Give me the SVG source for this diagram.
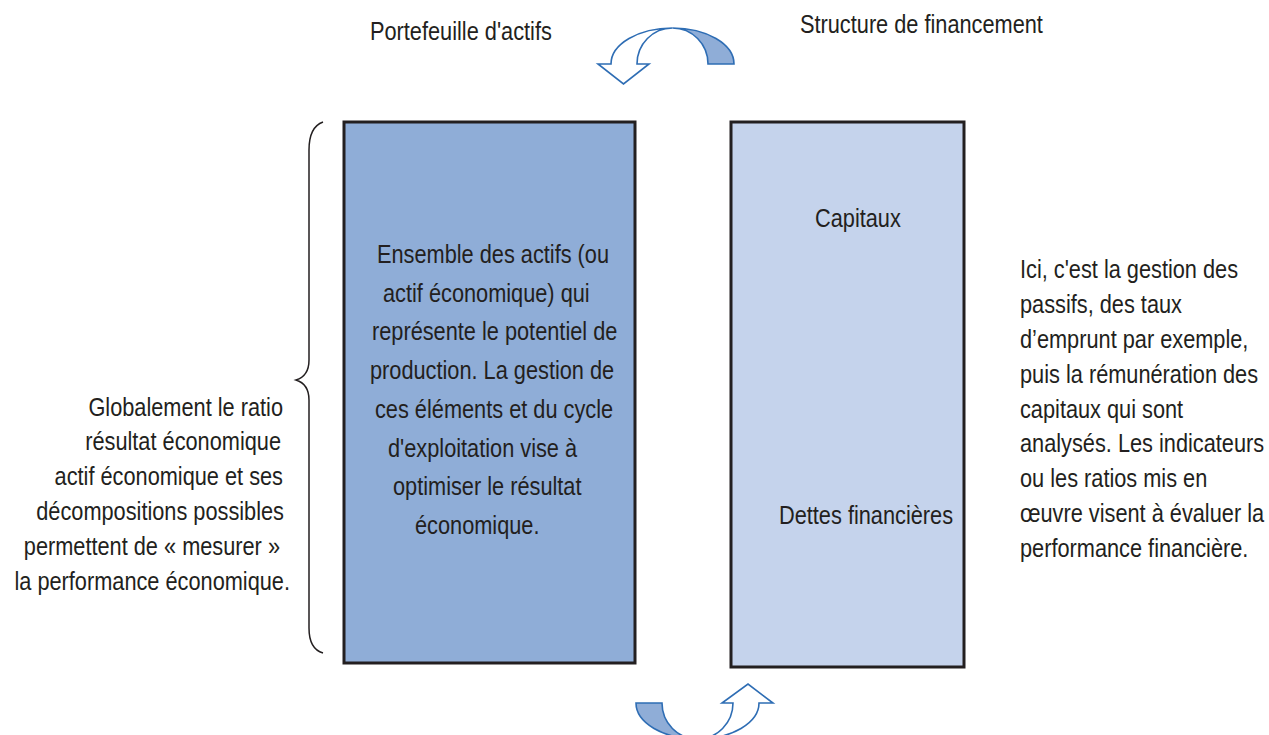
<svg xmlns="http://www.w3.org/2000/svg" width="1269" height="735" viewBox="0 0 1269 735">
<style>
.t{font-family:"Liberation Sans",Arial,sans-serif;font-size:25px;fill:#231f20;}
.e{text-anchor:end;}
.box{stroke:#231f20;stroke-width:3;}
.arr{stroke:#2e6db4;stroke-width:1.6;stroke-linejoin:miter;}
</style>
<rect width="1269" height="735" fill="#ffffff"/>
<g id="label-portefeuille"><text class="t" transform="translate(370,40) scale(0.87,1)">Portefeuille d'actifs</text></g>
<g id="label-structure"><text class="t" transform="translate(800,33) scale(0.87,1)">Structure de financement</text></g>
<g id="connectors">
<path class="arr" fill="#ffffff" d="M611,64 A61.5,36 0 0 1 672.5,28 A35.5,36 0 0 0 637,64 L649,64 L623.5,84 L598,64 Z"/>
<path class="arr" fill="#8fadd7" d="M672.5,28 A61.5,36 0 0 1 734,64 L708,64 A35.5,36 0 0 0 672.5,28 Z"/>
<path class="arr" fill="#8fadd7" d="M636,703 A61.5,36 0 0 0 697.5,739 A35.5,36 0 0 1 662,703 Z"/>
<path class="arr" fill="#ffffff" d="M697.5,739 A61.5,36 0 0 0 759,703 L773,703 L748,684 L722,703 L733,703 A35.5,36 0 0 1 697.5,739 Z"/>
</g>
<g id="brace">
<path d="M323,122 Q309,127 309,150 L309,360 Q309,376 296,380 Q309,384 309,400 L309,628 Q309,649 323,653" fill="none" stroke="#231f20" stroke-width="1.5"/>
</g>
<g id="actifs">
<rect class="box" x="344" y="122" width="291" height="541" fill="#8fadd7"/>
<text class="t" transform="translate(377,263) scale(0.87,1)">Ensemble des actifs (ou</text>
<text class="t" transform="translate(383,302) scale(0.87,1)">actif économique) qui</text>
<text class="t" transform="translate(372,340) scale(0.87,1)">représente le potentiel de</text>
<text class="t" transform="translate(370,379) scale(0.87,1)">production. La gestion de</text>
<text class="t" transform="translate(375,418) scale(0.87,1)">ces éléments et du cycle</text>
<text class="t" transform="translate(388,457) scale(0.87,1)">d'exploitation vise à</text>
<text class="t" transform="translate(393,495) scale(0.87,1)">optimiser le résultat</text>
<text class="t" transform="translate(415,534) scale(0.87,1)">économique.</text>
</g>
<g id="passifs">
<rect class="box" x="731" y="122" width="233" height="545" fill="#c5d3ec"/>
<text class="t" transform="translate(815,227) scale(0.87,1)">Capitaux</text>
<text class="t" transform="translate(779,524) scale(0.87,1)">Dettes financières</text>
</g>
<g id="texte-gauche">
<text class="t e" transform="translate(283,416) scale(0.87,1)">Globalement le ratio</text>
<text class="t e" transform="translate(281,450) scale(0.87,1)">résultat économique</text>
<text class="t e" transform="translate(283,485) scale(0.87,1)">actif économique et ses</text>
<text class="t e" transform="translate(284,520) scale(0.87,1)">décompositions possibles</text>
<text class="t e" transform="translate(280,555) scale(0.87,1)">permettent de « mesurer »</text>
<text class="t e" transform="translate(290,590) scale(0.87,1)">la performance économique.</text>
</g>
<g id="texte-droite">
<text class="t" transform="translate(1020,278) scale(0.87,1)">Ici, c'est la gestion des</text>
<text class="t" transform="translate(1020,313) scale(0.87,1)">passifs, des taux</text>
<text class="t" transform="translate(1020,348) scale(0.87,1)">d’emprunt par exemple,</text>
<text class="t" transform="translate(1020,383) scale(0.87,1)">puis la rémunération des</text>
<text class="t" transform="translate(1020,418) scale(0.87,1)">capitaux qui sont</text>
<text class="t" transform="translate(1020,452) scale(0.87,1)">analysés. Les indicateurs</text>
<text class="t" transform="translate(1020,487) scale(0.87,1)">ou les ratios mis en</text>
<text class="t" transform="translate(1020,522) scale(0.87,1)">œuvre visent à évaluer la</text>
<text class="t" transform="translate(1020,557) scale(0.87,1)">performance financière.</text>
</g>
</svg>
